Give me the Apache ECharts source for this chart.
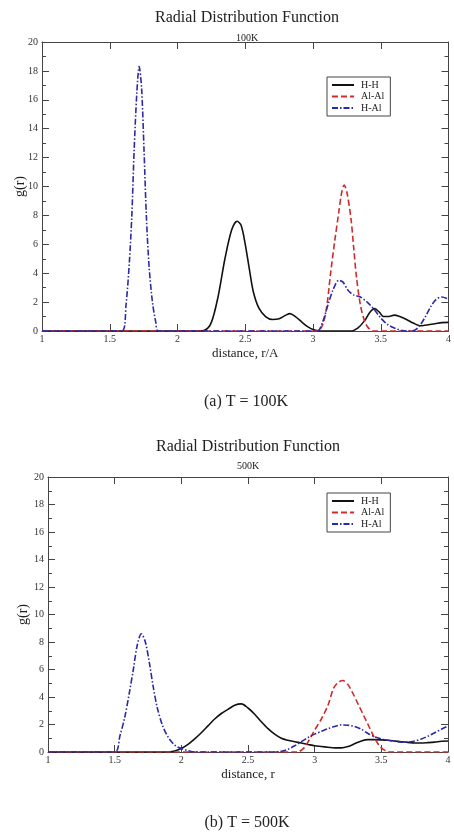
<!DOCTYPE html>
<html>
<head>
<meta charset="utf-8">
<script src="https://cdn.jsdelivr.net/npm/echarts@6/dist/echarts.min.js"></script>
<style>html,body{margin:0;padding:0;background:#fff;}#c{width:454px;height:836px;}</style>
</head>
<body>
<div id="c"></div>
<script>
// ---- data ----
var seriesNames = ['H-H', 'Al-Al', 'H-Al'];
var xTicks = [1, 1.5, 2, 2.5, 3, 3.5, 4];
var yTicks = [0, 2, 4, 6, 8, 10, 12, 14, 16, 18, 20];

var hh100 = [[1,0],[2.15,0],[2.2,0.05],[2.25,0.6],[2.3,2.4],[2.35,5.0],[2.4,7.0],[2.44,7.6],[2.47,7.3],[2.5,6.0],[2.53,4.3],[2.56,2.7],[2.6,1.6],[2.65,1.0],[2.7,0.8],[2.75,0.85],[2.8,1.1],[2.83,1.2],[2.87,1.0],[2.92,0.6],[2.96,0.3],[3.0,0.1],[3.05,0],[3.28,0],[3.33,0.2],[3.38,0.7],[3.42,1.3],[3.455,1.55],[3.49,1.3],[3.52,1.0],[3.56,1.0],[3.6,1.1],[3.64,1.0],[3.69,0.8],[3.74,0.55],[3.79,0.36],[3.84,0.42],[3.9,0.5],[3.95,0.58],[4.0,0.6]];
var alal100 = [[1,0],[3.03,0],[3.07,0.4],[3.1,1.6],[3.13,4.0],[3.16,6.2],[3.19,8.2],[3.21,9.5],[3.23,10.1],[3.25,9.6],[3.28,7.8],[3.3,5.8],[3.32,3.8],[3.35,1.8],[3.38,0.7],[3.41,0.2],[3.45,0],[4,0]];
var hal100 = [[1,0],[1.59,0],[1.62,1.8],[1.645,4.8],[1.663,8],[1.68,12.5],[1.70,16.5],[1.717,18.3],[1.735,16.8],[1.753,12.5],[1.77,8],[1.79,4.5],[1.815,2.0],[1.84,0.6],[1.86,0],[3.03,0],[3.07,0.6],[3.11,1.8],[3.15,2.9],[3.19,3.5],[3.22,3.4],[3.26,2.8],[3.3,2.5],[3.35,2.35],[3.4,2.0],[3.45,1.5],[3.5,0.9],[3.55,0.45],[3.6,0.2],[3.65,0.05],[3.7,0],[3.75,0.05],[3.79,0.4],[3.83,1.0],[3.87,1.7],[3.91,2.2],[3.95,2.35],[4.0,2.2]];

var hh500 = [[1,0],[1.9,0],[1.95,0.08],[2.0,0.25],[2.05,0.55],[2.1,0.95],[2.15,1.4],[2.2,1.9],[2.25,2.4],[2.3,2.8],[2.35,3.1],[2.4,3.4],[2.45,3.5],[2.5,3.2],[2.55,2.75],[2.6,2.2],[2.65,1.7],[2.7,1.3],[2.75,1.0],[2.8,0.85],[2.85,0.75],[2.9,0.65],[2.95,0.55],[3.0,0.45],[3.05,0.4],[3.1,0.35],[3.15,0.3],[3.2,0.3],[3.25,0.4],[3.3,0.6],[3.35,0.8],[3.4,0.9],[3.45,0.9],[3.5,0.88],[3.55,0.85],[3.6,0.8],[3.65,0.75],[3.7,0.7],[3.75,0.65],[3.8,0.65],[3.85,0.68],[3.9,0.72],[3.95,0.78],[4.0,0.8]];
var alal500 = [[1,0],[2.87,0],[2.92,0.3],[2.96,0.9],[3.0,1.6],[3.05,2.4],[3.1,3.4],[3.14,4.6],[3.17,5.0],[3.21,5.2],[3.25,4.9],[3.29,4.2],[3.33,3.4],[3.37,2.6],[3.41,1.8],[3.45,1.0],[3.49,0.4],[3.53,0.1],[3.57,0],[4,0]];
var hal500 = [[1,0],[1.5,0],[1.54,1.2],[1.575,2.5],[1.61,4.3],[1.64,6.0],[1.67,7.8],[1.70,8.6],[1.73,8.0],[1.76,6.5],[1.79,4.7],[1.82,3.2],[1.86,1.9],[1.9,1.1],[1.95,0.5],[2.0,0.25],[2.05,0.1],[2.1,0],[2.7,0],[2.75,0.05],[2.8,0.2],[2.85,0.45],[2.9,0.75],[2.95,1.05],[3.0,1.3],[3.05,1.5],[3.1,1.7],[3.15,1.85],[3.2,1.97],[3.25,1.95],[3.3,1.85],[3.35,1.65],[3.4,1.35],[3.45,1.1],[3.5,0.95],[3.55,0.85],[3.6,0.78],[3.65,0.72],[3.7,0.72],[3.75,0.8],[3.8,0.95],[3.85,1.15],[3.9,1.4],[3.95,1.65],[4.0,1.9]];

// ---- styling ----
var SERIF = "'Liberation Serif', 'Times New Roman', 'DejaVu Serif', serif";
var colors = {'H-H': '#111111', 'Al-Al': '#d22a2a', 'H-Al': '#2a2aa8'};
var dashes = {'H-H': 'solid', 'Al-Al': [6, 3], 'H-Al': [6, 2, 1.5, 2]};
var AX = '#444';

function xAx(grid, pos, name, showLabel) {
  return {
    type: 'value', gridIndex: grid, position: pos,
    min: xTicks[0], max: xTicks[xTicks.length - 1], interval: 0.5,
    axisLine: {show: true, onZero: false, lineStyle: {color: AX, width: 1}},
    axisTick: {show: true, inside: true, length: 7, lineStyle: {color: AX}},
    axisLabel: {show: showLabel, margin: 3, fontSize: 10, color: '#333', fontFamily: SERIF},
    splitLine: {show: false},
    name: name, nameLocation: 'middle', nameGap: 16, nameMoveOverlap: false,
    nameTextStyle: {fontSize: 13, color: '#222', fontFamily: SERIF}
  };
}
function yAx(grid, pos, name, showLabel, gap) {
  return {
    type: 'value', gridIndex: grid, position: pos,
    min: yTicks[0], max: yTicks[yTicks.length - 1], interval: 2,
    axisLine: {show: true, onZero: false, lineStyle: {color: AX, width: 1}},
    axisTick: {show: true, inside: true, length: 7, lineStyle: {color: AX}},
    minorTick: {show: true, splitNumber: 2, length: 4, lineStyle: {color: AX}},
    axisLabel: {show: showLabel, margin: 4, fontSize: 10, color: '#333', fontFamily: SERIF},
    splitLine: {show: false}, minorSplitLine: {show: false},
    name: name, nameLocation: 'middle', nameGap: gap || 15, nameRotate: 90, nameMoveOverlap: false,
    nameTextStyle: {fontSize: 14, color: '#222', fontFamily: SERIF}
  };
}
function ser(name, data, xi, yi) {
  return {
    type: 'line', name: name, data: data, xAxisIndex: xi, yAxisIndex: yi,
    showSymbol: false, symbol: 'none', smooth: 0.3,
    lineStyle: {color: colors[name], width: 1.6, type: dashes[name]},
    itemStyle: {color: colors[name]}, animation: false, z: 3
  };
}
function legend(left, top) {
  return {
    orient: 'vertical', left: left, top: top, data: seriesNames,
    itemWidth: 22, itemHeight: 8, itemGap: 1.5, padding: [3, 6, 3, 4],
    borderColor: '#444', borderWidth: 1, backgroundColor: '#fff',
    selectedMode: false,
    itemStyle: {opacity: 0},
    textStyle: {fontSize: 10, color: '#222', fontFamily: SERIF, padding: [0,0,0,2]}
  };
}
function txt(x, y, s, size) {
  return {type: 'text', x: x, y: y, style: {text: s, fontSize: size, fontFamily: SERIF, fill: '#222', textAlign: 'center', textVerticalAlign: 'middle'}};
}

var option = {
  animation: false,
  backgroundColor: '#fff',
  grid: [
    {left: 42, top: 42, width: 410, height: 289, containLabel: false},
    {left: 48, top: 477, width: 400, height: 275, containLabel: false}
  ],
  xAxis: [xAx(0, 'bottom', 'distance, r/A', true), xAx(0, 'top', '', false),
          xAx(1, 'bottom', 'distance, r', true), xAx(1, 'top', '', false)],
  yAxis: [yAx(0, 'left', 'g(r)', true, 15), yAx(0, 'right', '', false),
          yAx(1, 'left', 'g(r)', true, 18), yAx(1, 'right', '', false)],
  legend: [legend(327, 77), legend(327, 493)],
  series: [
    ser('H-H', hh100, 0, 0), ser('Al-Al', alal100, 0, 0), ser('H-Al', hal100, 0, 0),
    ser('H-H', hh500, 2, 2), ser('Al-Al', alal500, 2, 2), ser('H-Al', hal500, 2, 2)
  ],
  graphic: [
    txt(247, 18, 'Radial Distribution Function', 16),
    txt(247, 38, '100K', 10),
    txt(246, 402, '(a) T = 100K', 16),
    txt(248, 447, 'Radial Distribution Function', 16),
    txt(248, 466, '500K', 10),
    txt(247, 823, '(b) T = 500K', 16)
  ]
};
var chart = echarts.init(document.getElementById('c'), null, {renderer: 'canvas'});
chart.setOption(option);
</script>
</body>
</html>
